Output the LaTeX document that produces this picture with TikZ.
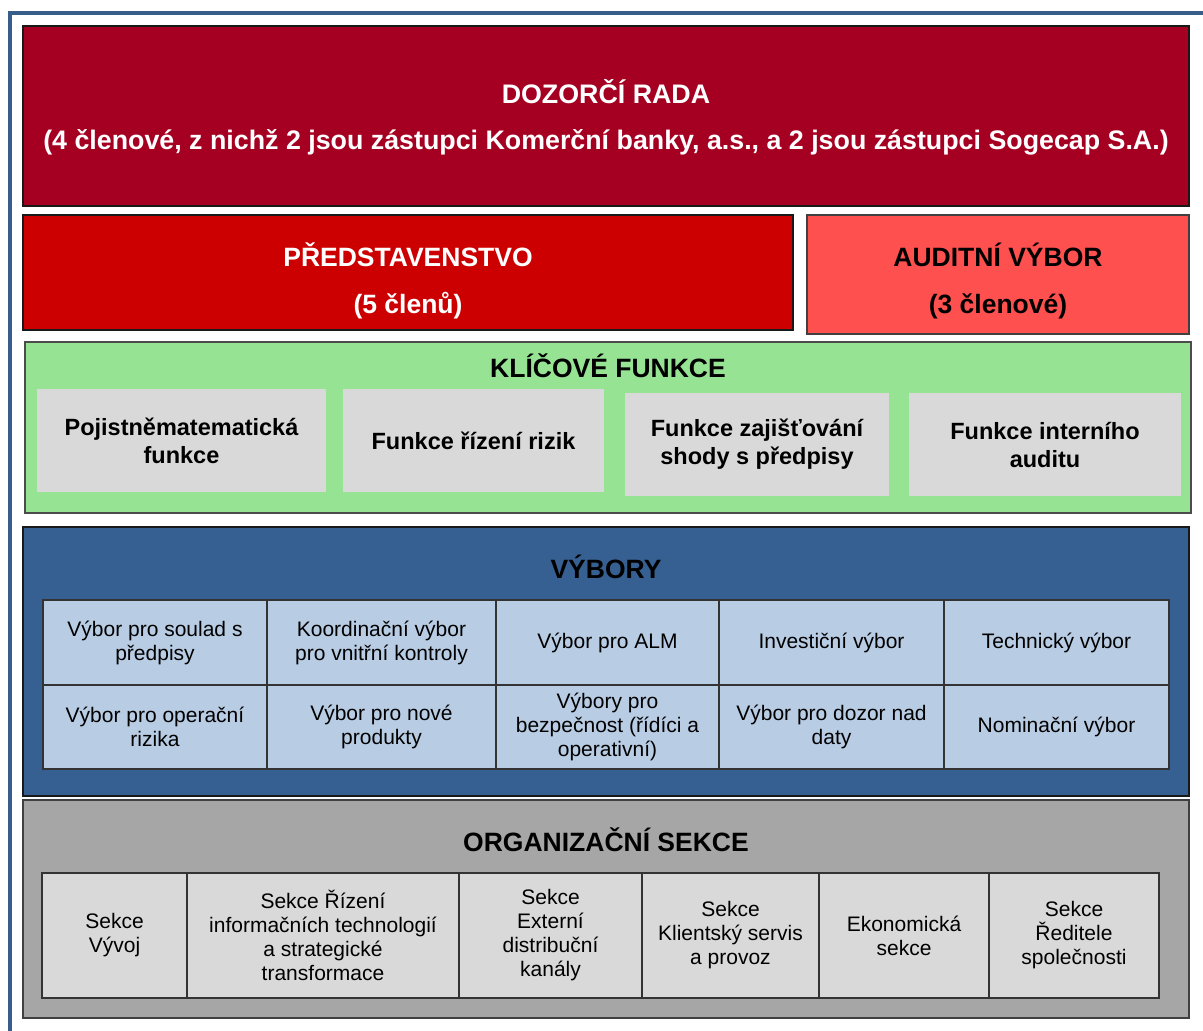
\documentclass[tikz,border=0pt]{standalone}
\usepackage{fontspec}
\setmainfont{Liberation Sans}
\definecolor{framebl}{RGB}{56,93,138}
\definecolor{radared}{HTML}{A50021}
\definecolor{predred}{HTML}{CC0000}
\definecolor{auditred}{HTML}{FF5050}
\definecolor{funkgreen}{RGB}{150,227,148}
\definecolor{lightgr}{HTML}{D9D9D9}
\definecolor{vybblue}{HTML}{366092}
\definecolor{cellblue}{HTML}{B8CCE4}
\definecolor{orggr}{HTML}{A6A6A6}
\tikzset{
  box/.style={draw=black!90, line width=1.5pt, inner sep=0pt},
  head/.style={align=center, inner sep=0pt, font=\fontsize{26.5}{47}\selectfont\bfseries},
  func/.style={fill=lightgr, inner sep=0pt, align=center, font=\fontsize{23.5}{28}\selectfont\bfseries},
  cell/.style={draw=black!80, line width=1.2pt, inner sep=0pt, align=center, font=\fontsize{21}{24}\selectfont},
}
\begin{document}
\begin{tikzpicture}[x=1pt, y=-1pt]
    \useasboundingbox (0,0) rectangle (1203,1031);
    \draw[line width=4pt, framebl](9.5,1031)--(9.5,13)--(1203,13);
    % horni vedeni
    \node[box, fill=radared, minimum width=1166, minimum height=180] (rada) at (606,116) {};
    \node[head, white, font=\fontsize{26.8}{46}\selectfont\bfseries] (radatext) at (606,117) {DOZORČÍ RADA\\(4 členové, z nichž 2 jsou zástupci Komerční banky, a.s., a 2 jsou zástupci Sogecap S.A.)};
    \node[box, fill=predred, minimum width=770, minimum height=115] (pred) at (408,272.5) {};
    \node[head, white] (predtext) at (408,281) {PŘEDSTAVENSTVO\\(5 členů)};
    \node[box, draw=black!75, fill=auditred, minimum width=382, minimum height=119] (audit) at (998,274.5) {};
    \node[head] (audittext) at (998,281) {AUDITNÍ VÝBOR\\(3 členové)};
    % klicove funkce
    \node[box, draw=black!70, fill=funkgreen, minimum width=1166, minimum height=171] (klic) at (608,427.5) {};
    \node[head] (klictext) at (608,366) {KLÍČOVÉ FUNKCE};
    \node[func, minimum width=289, minimum height=103] (poj) at (181.5,440.5) {Pojistněmatematická\\funkce};
    \node[func, minimum width=261, minimum height=103] (rizik) at (473.5,440.5) {Funkce řízení rizik};
    \node[func, minimum width=264, minimum height=103] (shoda) at (757,444.5) {Funkce zajišťování\\shody s předpisy};
    \node[func, minimum width=272, minimum height=103] (audfce) at (1045,444.5) {Funkce interního\\auditu};
    % vybory
    \node[box, fill=vybblue, minimum width=1166, minimum height=269] (vyb) at (606,661.5) {};
    \node[head] (vybtext) at (606,567) {VÝBORY};
    \node[cell, fill=cellblue, minimum width=224, minimum height=85] (v1) at (155,642.5) {Výbor pro soulad s\\předpisy};
    \node[cell, fill=cellblue, minimum width=229, minimum height=85] (v2) at (381.5,642.5) {Koordinační výbor\\pro vnitřní kontroly};
    \node[cell, fill=cellblue, minimum width=223, minimum height=85] (v3) at (607.5,642.5) {Výbor pro ALM};
    \node[cell, fill=cellblue, minimum width=225, minimum height=85] (v4) at (831.5,642.5) {Investiční výbor};
    \node[cell, fill=cellblue, minimum width=225, minimum height=85] (v5) at (1056.5,642.5) {Technický výbor};
    \node[cell, fill=cellblue, minimum width=224, minimum height=84] (v6) at (155,727) {Výbor pro operační\\rizika};
    \node[cell, fill=cellblue, minimum width=229, minimum height=84] (v7) at (381.5,727) {Výbor pro nové\\produkty};
    \node[cell, fill=cellblue, minimum width=223, minimum height=84] (v8) at (607.5,727) {Výbory pro\\bezpečnost (řídíci a\\operativní)};
    \node[cell, fill=cellblue, minimum width=225, minimum height=84] (v9) at (831.5,727) {Výbor pro dozor nad\\daty};
    \node[cell, fill=cellblue, minimum width=225, minimum height=84] (v10) at (1056.5,727) {Nominační výbor};
    % organizacni sekce
    \node[box, draw=black!75, fill=orggr, minimum width=1166, minimum height=218] (org) at (606,909) {};
    \node[head] (orgtext) at (606,840) {ORGANIZAČNÍ SEKCE};
    \node[cell, fill=lightgr, minimum width=145, minimum height=125] (s1) at (114.5,935.5) {Sekce\\Vývoj};
    \node[cell, fill=lightgr, minimum width=272, minimum height=125] (s2) at (323,935.5) {Sekce Řízení\\informačních technologií\\a strategické\\transformace};
    \node[cell, fill=lightgr, minimum width=183, minimum height=125] (s3) at (550.5,935.5) {Sekce\\Externí\\distribuční\\kanály};
    \node[cell, fill=lightgr, minimum width=177, minimum height=125] (s4) at (730.5,935.5) {Sekce\\Klientský servis\\a provoz};
    \node[cell, fill=lightgr, minimum width=170, minimum height=125] (s5) at (904,935.5) {Ekonomická\\sekce};
    \node[cell, fill=lightgr, minimum width=170, minimum height=125] (s6) at (1074,935.5) {Sekce\\Ředitele\\společnosti};
\end{tikzpicture}
\end{document}
